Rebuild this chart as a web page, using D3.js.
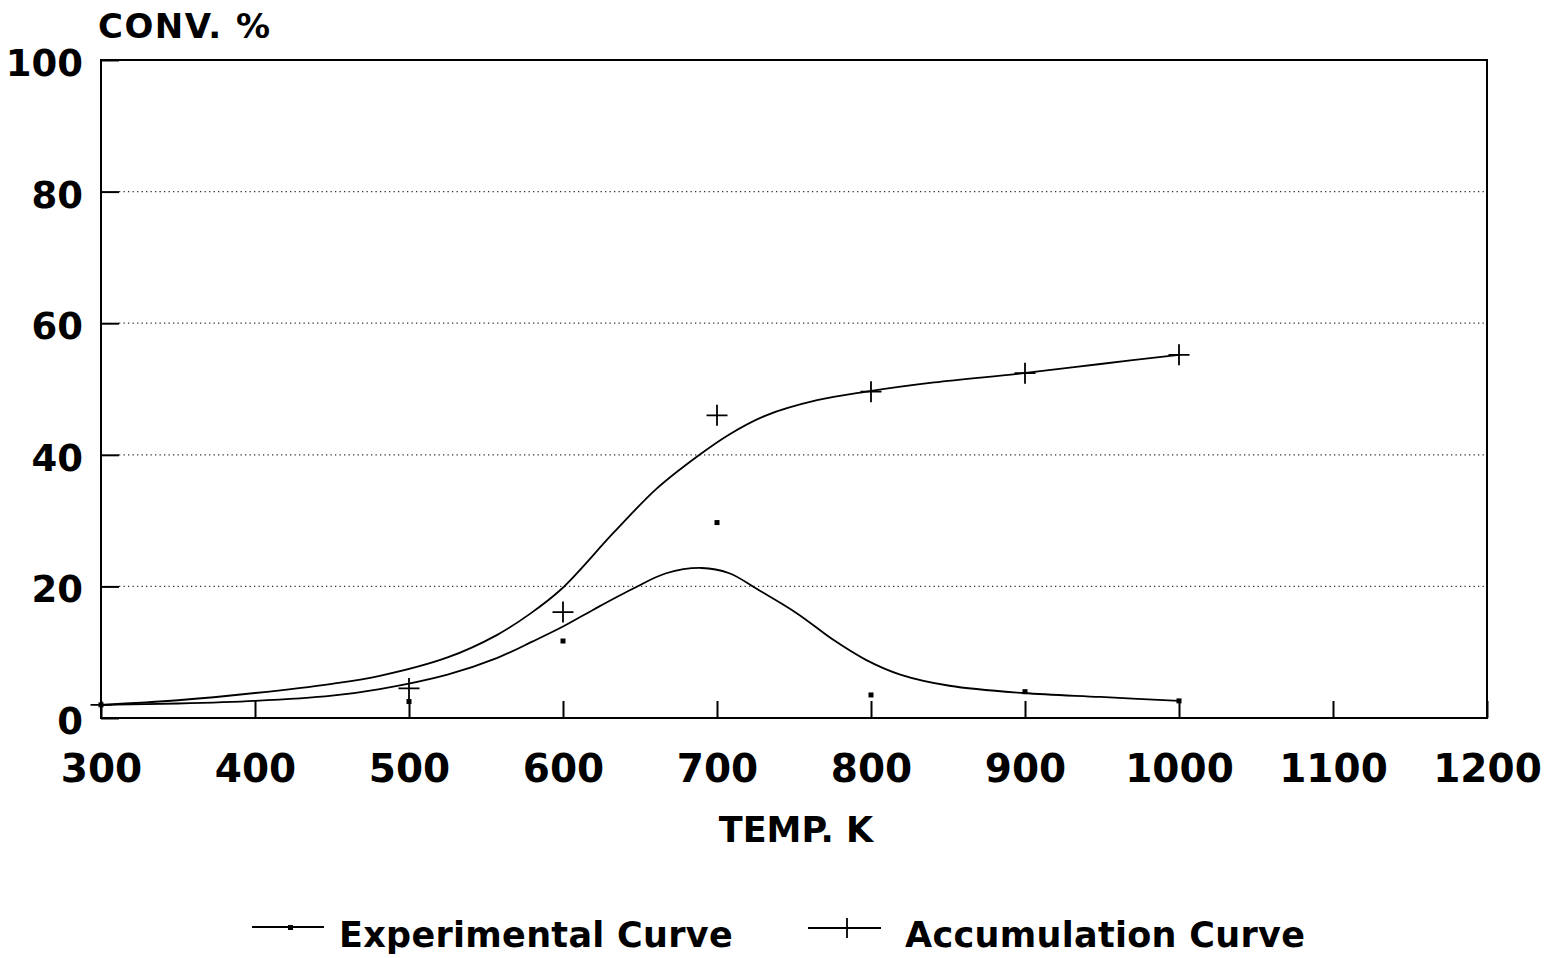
<!DOCTYPE html>
<html>
<head>
<meta charset="utf-8">
<script src="https://cdn.jsdelivr.net/npm/d3@7"></script>
<style>
  html, body { margin: 0; padding: 0; background: #fff; }
  svg { display: block; }
  text { font-family: "DejaVu Sans", "Liberation Sans", sans-serif; font-weight: bold; fill: #000; }
</style>
</head>
<body>
<svg id="chart" width="1547" height="958"></svg>
<script>
// ---- data ----
const xTicks = [300, 400, 500, 600, 700, 800, 900, 1000, 1100, 1200];
const yTicks = [0, 20, 40, 60, 80, 100];
const gridValues = [20, 40, 60, 80];

// measured points
const tempPoints = [300, 500, 600, 700, 800, 900, 1000];
const expPoints  = [2.0, 2.5, 11.7, 29.7, 3.5, 4.0, 2.6];
const accPoints  = [2.0, 4.5, 16.1, 46.0, 49.6, 52.4, 55.2];

// smoothed curves (as traced)
const expCurveT = [300, 350, 400, 450, 481, 525, 557, 580, 600, 620, 645, 667, 690, 708, 726, 752, 776, 797, 819, 851, 899, 949, 1000];
const expCurveV = [2.0, 2.2, 2.6, 3.4, 4.4, 6.6, 9.1, 11.6, 13.9, 16.5, 19.6, 22.0, 22.8, 22.0, 19.6, 15.9, 11.8, 8.8, 6.6, 4.9, 3.8, 3.2, 2.6];
const accCurveT = [300, 350, 400, 450, 481, 525, 557, 579, 599, 633, 661, 688, 708, 732, 765, 797, 841, 899, 949, 1000];
const accCurveV = [2.0, 2.7, 3.8, 5.2, 6.4, 9.2, 12.6, 15.9, 19.6, 28.2, 34.9, 39.9, 43.1, 46.0, 48.3, 49.6, 51.0, 52.4, 53.8, 55.2];

const seriesNames = ["Experimental Curve", "Accumulation Curve"];
const xTitle = "TEMP. K";
const yTitle = "CONV. %";

// ---- drawing ----
const svg = d3.select("#chart");
svg.append("rect").attr("width", 1547).attr("height", 958).attr("fill", "#fff");

const x = d3.scaleLinear().domain([300, 1200]).range([101, 1487]);
const y = d3.scaleLinear().domain([0, 100]).range([718, 60]);

// dotted gridlines
svg.append("g").selectAll("line").data(gridValues).join("line")
  .attr("x1", x(300) + 18).attr("x2", x(1200))
  .attr("y1", d => y(d)).attr("y2", d => y(d))
  .attr("stroke", "#333").attr("stroke-width", 1.2)
  .attr("stroke-dasharray", "1.3,3.2");

// x axis with inward ticks
const xAxis = svg.append("g").attr("transform", `translate(0,${y(0)})`)
  .call(d3.axisBottom(x).tickValues(xTicks).tickSize(-17).tickPadding(36).tickFormat(d3.format("d")));
xAxis.select(".domain").remove();
xAxis.selectAll(".tick line").attr("stroke", "#000").attr("stroke-width", 2);
xAxis.selectAll(".tick text").style("font-size", "39px").attr("fill", "#000");

// y axis with inward ticks
const yAxis = svg.append("g").attr("transform", `translate(${x(300)},0)`)
  .call(d3.axisLeft(y).tickValues(yTicks).tickSize(-18).tickPadding(18).tickFormat(d3.format("d")));
yAxis.select(".domain").remove();
yAxis.selectAll(".tick line").attr("stroke", "#000").attr("stroke-width", 2);
yAxis.selectAll(".tick text").style("font-size", "37px").attr("dy", "0.42em").attr("fill", "#000");

// frame
svg.append("rect")
  .attr("x", x(300)).attr("y", y(100))
  .attr("width", x(1200) - x(300)).attr("height", y(0) - y(100))
  .attr("fill", "none").attr("stroke", "#000").attr("stroke-width", 2);

// curves
const line = d3.line().x(d => x(d[0])).y(d => y(d[1])).curve(d3.curveCatmullRom.alpha(0.5));
svg.append("path").datum(d3.zip(expCurveT, expCurveV)).attr("d", line)
  .attr("fill", "none").attr("stroke", "#000").attr("stroke-width", 1.8);
svg.append("path").datum(d3.zip(accCurveT, accCurveV)).attr("d", line)
  .attr("fill", "none").attr("stroke", "#000").attr("stroke-width", 1.8);

// markers
const plus = (cx, cy, s) => `M${cx - s},${cy}H${cx + s}M${cx},${cy - s}V${cy + s}`;
svg.append("g").selectAll("rect").data(d3.zip(tempPoints, expPoints)).join("rect")
  .attr("x", d => x(d[0]) - 2.5).attr("y", d => y(d[1]) - 2.5)
  .attr("width", 5).attr("height", 5).attr("fill", "#000");
svg.append("g").selectAll("path").data(d3.zip(tempPoints, accPoints)).join("path")
  .attr("d", d => plus(x(d[0]), y(d[1]), 10.5))
  .attr("stroke", "#000").attr("stroke-width", 1.8).attr("fill", "none");

// titles
svg.append("text").attr("x", 98).attr("y", 38).style("font-size", "34px")
  .attr("letter-spacing", "1.5").text(yTitle);
svg.append("text").attr("x", (x(300) + x(1200)) / 2 + 2).attr("y", 842)
  .attr("text-anchor", "middle").style("font-size", "35px").text(xTitle);

// legend
const legend = svg.append("g");
legend.append("line").attr("x1", 252).attr("x2", 324).attr("y1", 927).attr("y2", 927)
  .attr("stroke", "#000").attr("stroke-width", 1.8);
legend.append("rect").attr("x", 288).attr("y", 925).attr("width", 5).attr("height", 5).attr("fill", "#000");
legend.append("text").attr("x", 339).attr("y", 947).style("font-size", "35px")
  .attr("letter-spacing", "0.3").text(seriesNames[0]);
legend.append("line").attr("x1", 808).attr("x2", 881).attr("y1", 928).attr("y2", 928)
  .attr("stroke", "#000").attr("stroke-width", 1.8);
legend.append("path").attr("d", `M847,918V938`).attr("stroke", "#000").attr("stroke-width", 1.8);
legend.append("text").attr("x", 905).attr("y", 947).style("font-size", "35px")
  .attr("letter-spacing", "0.3").text(seriesNames[1]);
</script>
</body>
</html>
